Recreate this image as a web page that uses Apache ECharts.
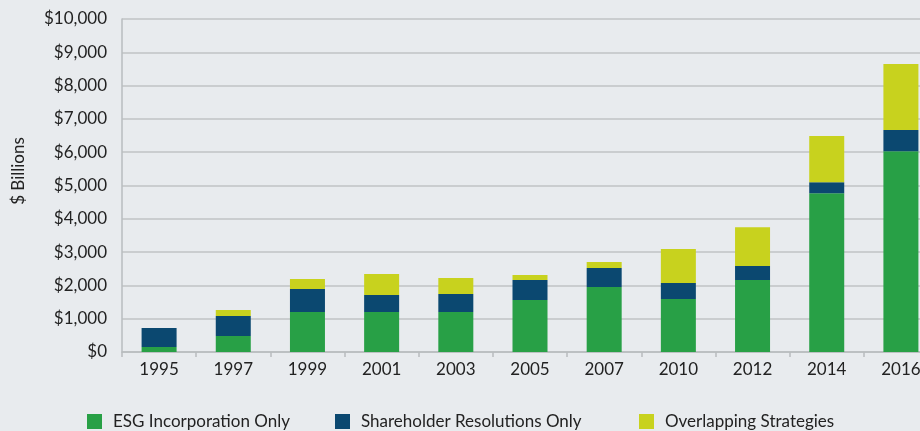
<!DOCTYPE html>
<html>
<head>
<meta charset="utf-8">
<script src="https://cdn.jsdelivr.net/npm/echarts@6/dist/echarts.min.js"></script>
<style>
  html, body { margin: 0; padding: 0; background: #e8ebee; overflow: hidden; }
  #chart { width: 940px; height: 431px; }
</style>
</head>
<body>
<div id="chart"></div>
<script>
const years = ['1995', '1997', '1999', '2001', '2003', '2005', '2007', '2010', '2012', '2014', '2016'];
const esgOnly = [150, 480, 1200, 1200, 1200, 1560, 1950, 1590, 2160, 4770, 6030];
const shareholderOnly = [570, 600, 690, 510, 540, 600, 570, 480, 420, 330, 640];
const overlapping = [0, 180, 300, 630, 480, 150, 180, 1020, 1170, 1390, 1980];
const seriesNames = ['ESG Incorporation Only', 'Shareholder Resolutions Only', 'Overlapping Strategies'];

const font = 'Lato, "Noto Sans", sans-serif';
const chart = echarts.init(document.getElementById('chart'));

const legendBase = {
  top: 413,
  padding: 0,
  itemWidth: 15,
  itemHeight: 15,
  icon: 'rect',
  itemGap: 10,
  textStyle: { color: '#222', fontSize: 17, fontFamily: font, padding: [0, 0, 0, 6] }
};

const option = {
  backgroundColor: '#e8ebee',
  animation: false,
  grid: { left: 122, top: 19, right: 2, height: 333 },
  graphic: [{
    type: 'text',
    x: 19,
    y: 171,
    rotation: Math.PI / 2,
    style: {
      text: '$ Billions',
      fontSize: 17,
      fontFamily: font,
      fill: '#222',
      align: 'center',
      verticalAlign: 'middle'
    }
  }],
  legend: [
    Object.assign({}, legendBase, { left: 87, data: [seriesNames[0]] }),
    Object.assign({}, legendBase, { left: 335, data: [seriesNames[1]] }),
    Object.assign({}, legendBase, { left: 639, data: [seriesNames[2]] })
  ],
  xAxis: {
    type: 'category',
    data: years,
    axisLine: { lineStyle: { color: '#b8bcbf', width: 1.5 } },
    axisTick: { show: true, length: 5, lineStyle: { color: '#b8bcbf', width: 1.5 } },
    axisLabel: { color: '#222', fontSize: 17, fontFamily: font, margin: 9 }
  },
  yAxis: {
    type: 'value',
    min: 0,
    max: 10000,
    interval: 1000,
    axisLine: { show: true, lineStyle: { color: '#b8bcbf', width: 1.5 } },
    axisTick: { show: false },
    splitLine: { lineStyle: { color: '#c0c3c5', width: 1.5 } },
    axisLabel: {
      color: '#222',
      fontSize: 17,
      fontFamily: font,
      margin: 15,
      formatter: v => '$' + v.toLocaleString('en-US')
    }
  },
  series: [
    { name: seriesNames[0], type: 'bar', stack: 'total', barWidth: 35, data: esgOnly, itemStyle: { color: '#28a046' } },
    { name: seriesNames[1], type: 'bar', stack: 'total', barWidth: 35, data: shareholderOnly, itemStyle: { color: '#0b4870' } },
    { name: seriesNames[2], type: 'bar', stack: 'total', barWidth: 35, data: overlapping, itemStyle: { color: '#c8d21e' } }
  ]
};
chart.setOption(option);
</script>
</body>
</html>
